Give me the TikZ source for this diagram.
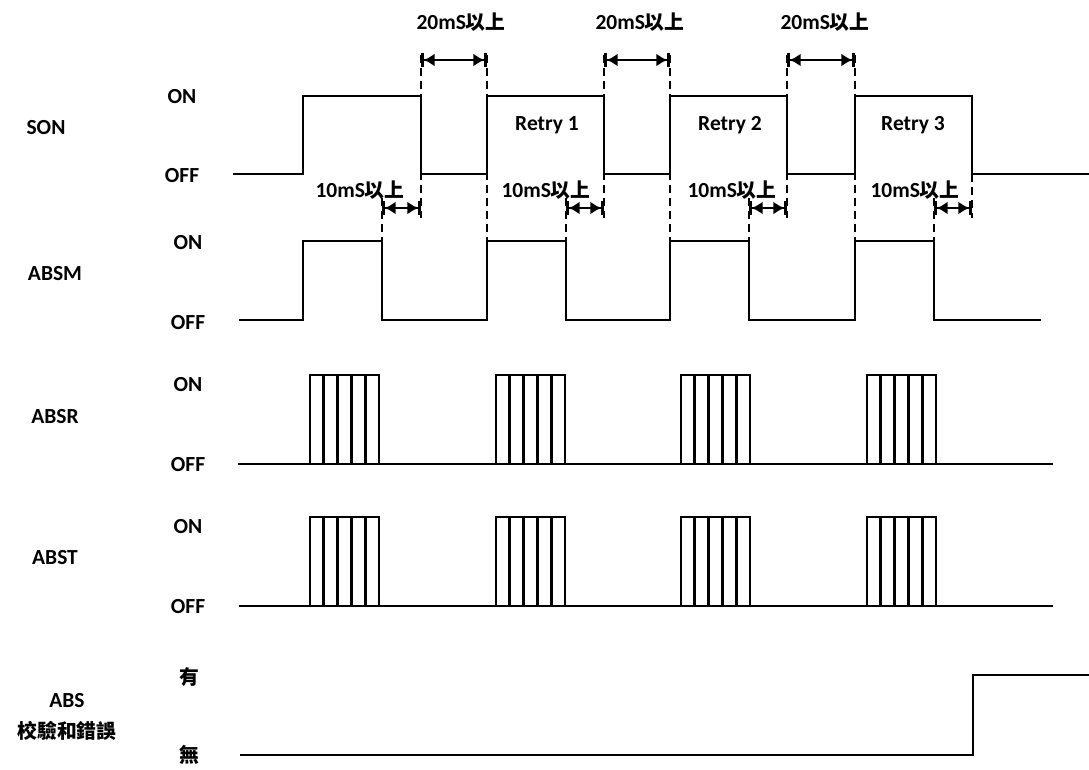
\documentclass[tikz,border=0pt]{standalone}
\usepackage{fontspec}
\setmainfont{Carlito}
\newfontfamily\cjk{Noto Sans CJK TC}[Scale=0.92]
\usetikzlibrary{arrows.meta}
\begin{document}
\begin{tikzpicture}[x=1pt,y=-1pt,
  sig/.style={line width=2.8pt, line join=miter},
  guide/.style={line width=2.6pt, dash pattern=on 8pt off 5pt},
  dimarrow/.style={line width=2.6pt, {Bar[width=14pt,line width=2.6pt]Latex[length=11pt,width=13pt]}-{Latex[length=11pt,width=13pt]Bar[width=14pt,line width=2.6pt]}},
  lbl/.style={font=\fontsize{21.5}{24}\selectfont\bfseries, inner sep=0pt},
]
\useasboundingbox (0,0) rectangle (1089,769);

% guides
\foreach \x in {421,604,787} \draw[guide] (\x,55) -- (\x,218);
\foreach \x in {487,670,855} \draw[guide] (\x,55) -- (\x,241);
\draw[guide] (972,174) -- (972,218);
\foreach \x in {382,566,749,934} \draw[guide] (\x,198) -- (\x,241);

% SON
\draw[sig] (233,174) -- (303,174) -- (303,96) -- (421,96) -- (421,174) -- (487,174) -- (487,96) -- (604,96) -- (604,174) -- (670,174) -- (670,96) -- (787,96) -- (787,174) -- (855,174) -- (855,96) -- (972,96) -- (972,174) -- (1089,174);

% ABSM
\draw[sig] (239,320) -- (303,320) -- (303,241) -- (382,241) -- (382,320) -- (487,320) -- (487,241) -- (566,241) -- (566,320) -- (670,320) -- (670,241) -- (749,241) -- (749,320) -- (855,320) -- (855,241) -- (934,241) -- (934,320) -- (1041,320);

% ABSR
\draw[sig] (238,464) -- (1053,464);
\foreach \x in {310,496,681,867} {
  \draw[sig] (\x,464) -- (\x,375) -- (\x+69,375) -- (\x+69,464);
  \foreach \k in {1,...,4} \draw[sig] (\x+13.8*\k,375) -- (\x+13.8*\k,464);
}

% ABST
\draw[sig] (239,606) -- (1053,606);
\foreach \x in {310,496,681,867} {
  \draw[sig] (\x,606) -- (\x,517) -- (\x+69,517) -- (\x+69,606);
  \foreach \k in {1,...,4} \draw[sig] (\x+13.8*\k,517) -- (\x+13.8*\k,606);
}

% ABS checksum
\draw[sig] (240,755) -- (973,755) -- (973,675) -- (1089,675);

% dimension arrows
\draw[dimarrow] (421,60) -- (487,60);
\draw[dimarrow] (604,60) -- (670,60);
\draw[dimarrow] (787,60) -- (855,60);
\draw[dimarrow] (382,208) -- (421,208);
\draw[dimarrow] (566,208) -- (604,208);
\draw[dimarrow] (749,208) -- (787,208);
\draw[dimarrow] (934,208) -- (972,208);

% timing labels
\node[lbl] (t20a) at (461,22) {20mS{\cjk 以上}};
\node[lbl] (t20b) at (640,22) {20mS{\cjk 以上}};
\node[lbl] (t20c) at (825,22) {20mS{\cjk 以上}};
\node[lbl] (t10a) at (360,190) {10mS{\cjk 以上}};
\node[lbl] (t10b) at (546,190) {10mS{\cjk 以上}};
\node[lbl] (t10c) at (732,190) {10mS{\cjk 以上}};
\node[lbl] (t10d) at (915,190) {10mS{\cjk 以上}};
\node[lbl] (r1) at (547,125) {Retry 1};
\node[lbl] (r2) at (730,125) {Retry 2};
\node[lbl] (r3) at (913,125) {Retry 3};

% signal names and levels
\node[lbl] (nSON) at (46,128) {SON};
\node[lbl] (onSON) at (182,97) {ON};
\node[lbl] (offSON) at (182,176) {OFF};
\node[lbl] (nABSM) at (55,274) {ABSM};
\node[lbl] (onABSM) at (188,243) {ON};
\node[lbl] (offABSM) at (188,323) {OFF};
\node[lbl] (nABSR) at (55,417) {ABSR};
\node[lbl] (onABSR) at (188,385) {ON};
\node[lbl] (offABSR) at (188,465) {OFF};
\node[lbl] (nABST) at (55,558) {ABST};
\node[lbl] (onABST) at (188,527) {ON};
\node[lbl] (offABST) at (188,607) {OFF};
\node[lbl] (nABS) at (67,701) {ABS};
\node[lbl] (nCHK) at (67,731) {\cjk 校驗和錯誤};
\node[lbl] (yes) at (189,677) {\cjk 有};
\node[lbl] (no) at (189,755) {\cjk 無};
\end{tikzpicture}
\end{document}
